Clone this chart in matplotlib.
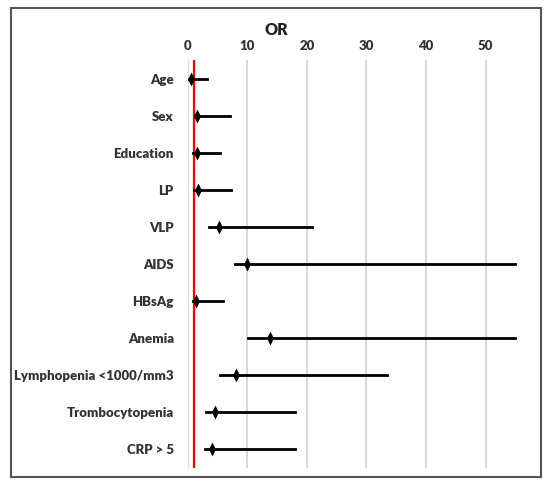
import matplotlib
matplotlib.use('Agg')
import matplotlib.pyplot as plt
from matplotlib.patches import Rectangle

plt.rcParams['font.family'] = ['Lato', 'DejaVu Sans']

# odds ratios with 95% CI
labels = ['Age', 'Sex', 'Education', 'LP', 'VLP', 'AIDS', 'HBsAg', 'Anemia',
          'Lymphopenia <1000/mm3', 'Trombocytopenia', 'CRP > 5']
odds = [0.5, 1.6, 1.5, 1.7, 5.25, 9.95, 1.4, 13.75, 8.05, 4.5, 4.1]
ci_low = [0.3, 1.2, 0.85, 1.0, 3.5, 7.9, 0.95, 10.1, 5.5, 3.0, 2.9]
ci_high = [3.3, 7.1, 5.4, 7.2, 20.9, 55.0, 5.9, 55.0, 33.4, 17.95, 18.05]
xticks = [0, 10, 20, 30, 40, 50]

W, H = 550, 486
fig = plt.figure(figsize=(W / 100, H / 100), dpi=100)

# outer frame like the excel chart border
fig.patches.append(Rectangle((11 / W, 1 - 477 / H), 530 / W, 469 / H,
                             transform=fig.transFigure, fill=False,
                             edgecolor='#555555', linewidth=1.5))

x0, x1 = 187.7, 527.4
ax = fig.add_axes([x0 / W, 1 - 468 / H, (x1 - x0) / W, 408 / H])
ax.set_xlim(0, 57)
ax.set_ylim(len(labels) - 0.5, -0.5)

for v in xticks:
    ax.axvline(v, color='#d9d9d9', lw=1.5, zorder=0)
ax.axvline(1, color='red', lw=1.6, zorder=1)

diamond = [(0, 1), (0.5, 0), (0, -1), (-0.5, 0), (0, 1)]
for i in range(len(labels)):
    ax.plot([ci_low[i], ci_high[i]], [i, i], color='black', lw=2, zorder=2)
    ax.plot(odds[i], i, marker=diamond, color='black', markersize=10,
            markeredgewidth=0, zorder=3, clip_on=False)

ax.xaxis.tick_top()
ax.set_xticks(xticks)
ax.set_xticklabels([str(v) for v in xticks], fontsize=9.5, fontweight='heavy',
                   color='#333333')
ax.tick_params(axis='x', length=0, pad=6)
ax.set_yticks(range(len(labels)))
ax.set_yticklabels(labels, fontsize=9.5, fontweight='heavy', color='#333333')
ax.tick_params(axis='y', length=0, pad=10)
for s in ax.spines.values():
    s.set_visible(False)

fig.text(276.7 / W, 1 - 30 / H, 'OR', ha='center', va='center',
         fontsize=11.5, fontweight='heavy', color='#222222')

fig.savefig('out.png', dpi=100)
